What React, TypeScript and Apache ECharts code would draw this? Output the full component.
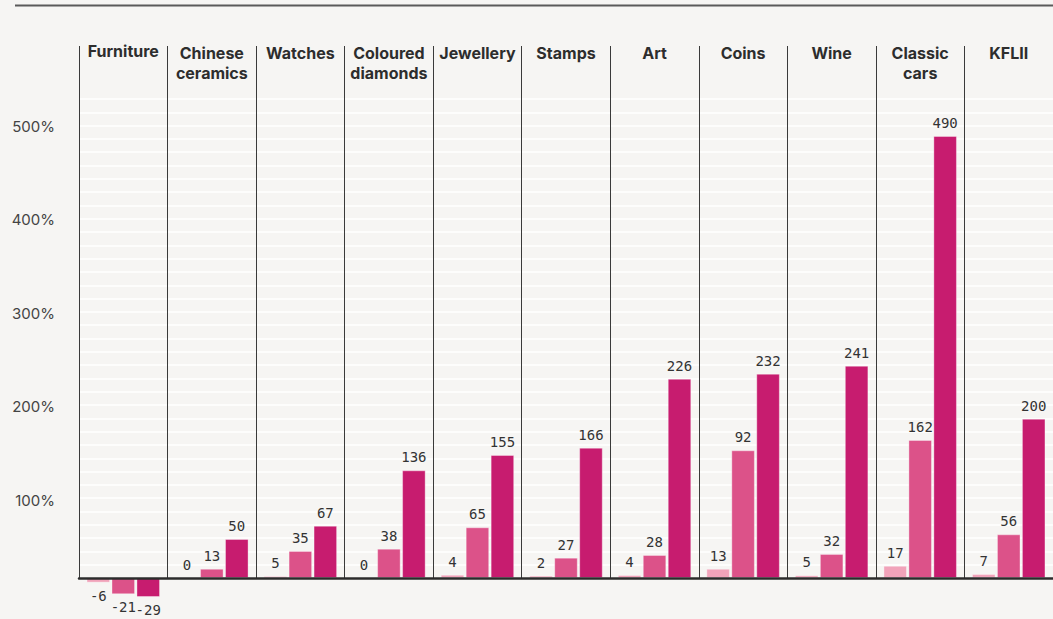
import React, { useEffect, useRef } from "react";
import * as echarts from "echarts";

const categories = [
  "Furniture",
  "Chinese\nceramics",
  "Watches",
  "Coloured\ndiamonds",
  "Jewellery",
  "Stamps",
  "Art",
  "Coins",
  "Wine",
  "Classic\ncars",
  "KFLII",
];
const seriesNames = ["1 year", "5 years", "10 years"];

// printed value labels
const labels1 = [-6, 0, 5, 0, 4, 2, 4, 13, 5, 17, 7];
const labels5 = [-21, 13, 35, 38, 65, 27, 28, 92, 32, 162, 56];
const labels10 = [-29, 50, 67, 136, 155, 166, 226, 232, 241, 490, 200];

// bar lengths as drawn in the picture (axis %)
const bars1 = [-5.0, 0, 2.1, 0, 3.5, 2.5, 3.2, 9.9, 2.9, 13.1, 4.3];
const bars5 = [-17.4, 9.9, 28.9, 31.3, 54.2, 21.7, 24.6, 136.5, 25.7, 147.5, 46.7];
const bars10 = [-20.3, 41.7, 55.9, 115.1, 131.5, 139.3, 213.0, 218.4, 226.9, 472.5, 170.3];

const yTicks = [100, 200, 300, 400, 500];
const colors = ["#f1a3ba", "#dc5289", "#c71c6f"];

export default function App() {
  const ref = useRef<HTMLDivElement>(null);
  useEffect(() => {
    if (!ref.current) return;
    const chart = echarts.init(ref.current, undefined, { renderer: "svg" });
    const labelSets = [labels1, labels5, labels10];
    const barSets = [bars1, bars5, bars10];
    const catStyle = {
      verticalAlign: "top",
      align: "center",
      fontSize: 16,
      fontWeight: "bold",
      lineHeight: 20,
      color: "#2d2d2d",
      fontFamily: "Inter",
    };
    const topItems = categories.map((c, i) =>
      i === 0 ? { value: c, textStyle: { ...catStyle, lineHeight: 15 } } : { value: c }
    );
    const option: any = {
      animation: false,
      backgroundColor: "#f6f5f3",
      textStyle: { fontFamily: "Inter" },
      graphic: [
        {
          type: "line",
          shape: { x1: 15, y1: 5.5, x2: 1053, y2: 5.5 },
          style: { stroke: "#5a5a5a", lineWidth: 2 },
        },
      ],
      grid: [
        { left: 79, right: -4, top: 46, bottom: 41 },
        { left: 79, right: -4, top: 99, bottom: 41 },
      ],
      xAxis: [
        {
          type: "category",
          gridIndex: 0,
          data: categories,
          position: "bottom",
          z: 3,
          axisLine: { onZero: true, lineStyle: { color: "#2b2b2b", width: 2.5 } },
          axisTick: { show: false },
          axisLabel: { show: false },
          splitLine: { show: true, interval: 0, lineStyle: { color: "#3a3a3a", width: 1 } },
        },
        {
          type: "category",
          gridIndex: 0,
          data: topItems,
          position: "top",
          axisLine: { show: false },
          axisTick: { show: false },
          splitLine: { show: false },
          axisLabel: { interval: 0, margin: 3, ...catStyle },
        },
        { type: "category", gridIndex: 1, data: categories, show: false },
      ],
      yAxis: [
        {
          type: "value",
          gridIndex: 0,
          min: 0,
          max: 568.7,
          interval: 100,
          splitLine: { show: false },
          axisLine: { show: false },
          axisTick: { show: false },
          axisLabel: {
            formatter: (v: number) =>
              yTicks.includes(Math.round(v)) && Math.abs(v - Math.round(v)) < 0.01 ? `${Math.round(v)}%` : "",
            margin: 24,
            fontSize: 15,
            color: "#444",
            fontFamily: "Inter",
            verticalAlign: "top",
            lineHeight: 32,
          },
        },
        {
          type: "value",
          gridIndex: 1,
          min: 0,
          max: 36,
          interval: 1,
          axisLabel: { show: false },
          axisLine: { show: false },
          axisTick: { show: false },
          splitLine: { show: true, lineStyle: { color: "#ffffff", width: 1.5 } },
        },
      ],
      series: barSets.map((arr, si) => ({
        type: "bar",
        name: seriesNames[si],
        xAxisIndex: 0,
        yAxisIndex: 0,
        clip: false,
        barGap: "6%",
        barCategoryGap: "17%",
        data: arr.map((v) => ({ value: v, label: { position: v < 0 ? "bottom" : "top" } })),
        itemStyle: { color: colors[si], borderColor: "rgba(255,255,255,0.35)", borderWidth: 1 },
        label: {
          show: true,
          distance: 6,
          formatter: (p: any) => String(labelSets[si][p.dataIndex]),
          fontFamily: "DejaVu Sans Mono",
          fontSize: 14,
          color: "#333",
        },
      })),
    };
    chart.setOption(option);
    return () => chart.dispose();
  }, []);
  return (
    <div
      ref={ref}
      style={{ position: "fixed", left: 0, top: 0, width: 1053, height: 619, background: "#f6f5f3" }}
    />
  );
}
